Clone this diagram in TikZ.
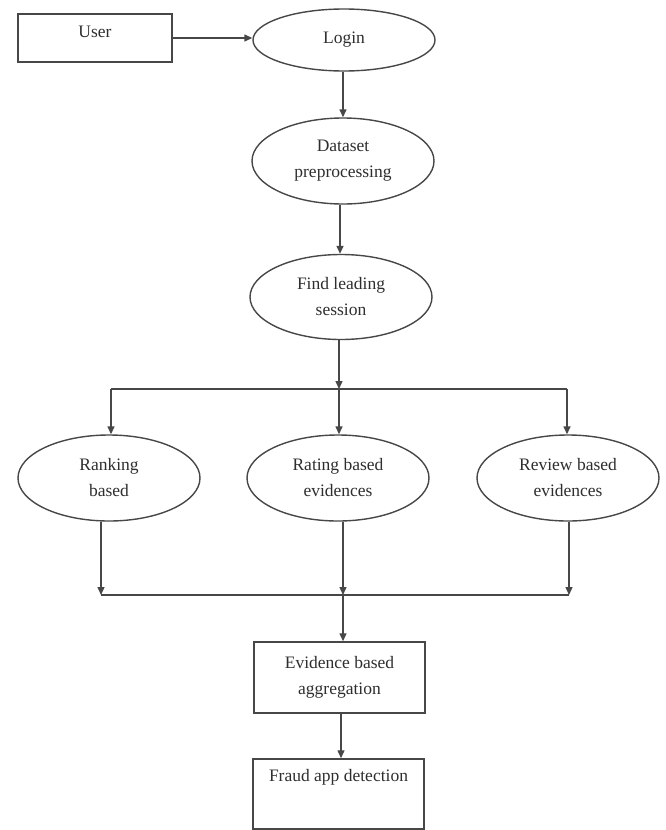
\documentclass[tikz,border=0pt]{standalone}
\usepackage{fontspec}
\setmainfont{Liberation Serif}
\usetikzlibrary{arrows.meta,shapes.geometric,calc}
\definecolor{ln}{HTML}{474747}
\definecolor{tx}{HTML}{2E2E2E}
\tikzset{
  every node/.style={text=tx, font=\fontsize{17.5}{26}\selectfont},
  ell/.style={draw=ln, line width=1.4pt, ellipse, minimum width=182, minimum height=86, align=center, inner sep=0pt},
  boxn/.style={draw=ln, line width=1.5pt, rectangle, align=center, inner sep=0pt},
  arr/.style={draw=ln, line width=1.4pt, -{Triangle[length=8pt,width=7pt]}},
  ln/.style={draw=ln, line width=1.4pt}
}
\begin{document}
\begin{tikzpicture}[x=1pt,y=-1pt]
\useasboundingbox (0,0) rectangle (665,830);
\node[boxn, minimum width=154, minimum height=48, text height=11pt, text depth=13pt] (user) at (95,38) {User};
\node[ell, minimum width=182, minimum height=62] (login) at (344,40) {Login};
\node[ell] (data) at (343,161) {Dataset\\preprocessing};
\node[ell, minimum height=85] (find) at (341,297) {Find leading\\session};
\node[ell] (rank) at (109,478) {Ranking\\based};
\node[ell] (rate) at (338,478) {Rating based\\evidences};
\node[ell] (rev) at (568,478) {Review based\\evidences};
\node[boxn, minimum width=171, minimum height=71] (evid) at (339.5,677.5) {Evidence based\\aggregation};
\node[boxn, minimum width=171, minimum height=70, text height=12pt, text depth=38pt] (fraud) at (338.5,794) {Fraud app detection};

\coordinate (t0) at (339,389);
\coordinate (t1) at (111,389);
\coordinate (t3) at (567,389);
\coordinate (b1) at (101,595);
\coordinate (b2) at (343,595);
\coordinate (b3) at (569,595);

\draw[arr] (user.east |- 0,38) -- (login.west |- 0,38);
\draw[arr] (login.south -| 343,0) -- (data.north -| 343,0);
\draw[arr] (data.south -| 340,0) -- (find.north -| 340,0);
\draw[arr] (find.south -| t0) -- (t0);
\draw[ln] (t1) -- (t3);
\draw[arr] (t1) -- (rank.north -| t1);
\draw[arr] (t0) -- (rate.north -| t0);
\draw[arr] (t3) -- (rev.north -| t3);
\draw[arr] (rank.south -| b1) -- (b1);
\draw[arr] (rate.south -| b2) -- (b2);
\draw[arr] (rev.south -| b3) -- (b3);
\draw[ln] (b1) -- (b3);
\draw[arr] (b2) -- (evid.north -| b2);
\draw[arr] (evid.south -| 341,0) -- (fraud.north -| 341,0);
\end{tikzpicture}
\end{document}
